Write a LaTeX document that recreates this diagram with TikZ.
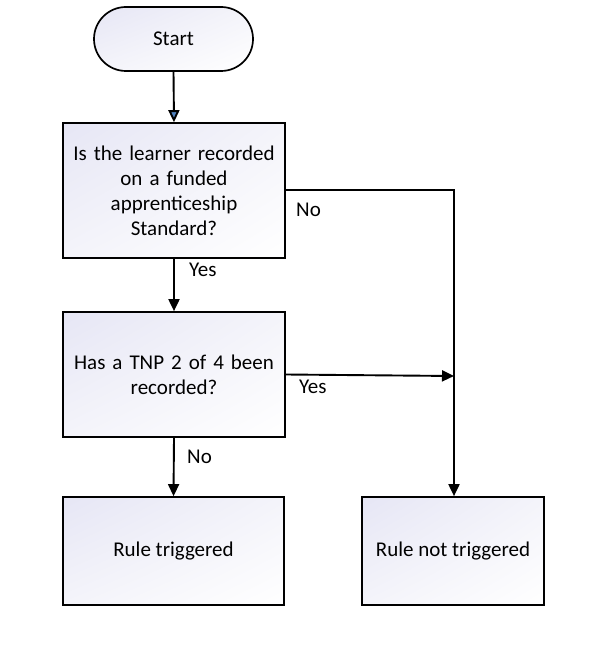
\documentclass[tikz,border=0pt]{standalone}
\usepackage{fontspec}
\setmainfont{Carlito}
\usetikzlibrary{arrows.meta,shadings}
\definecolor{shadeA}{RGB}{230,230,245}
\definecolor{shadeB}{RGB}{244,244,250}
\definecolor{tipblue}{RGB}{79,129,189}
\begin{document}
\begin{tikzpicture}[x=1pt,y=-1pt,
  every node/.style={font=\fontsize{21}{25}\selectfont, text=black},
  boxnode/.style={draw=black, line width=1.7pt, upper left=shadeA, upper right=shadeB, lower left=shadeB, lower right=white, align=center, inner sep=2pt},
  conn/.style={draw=black, line width=1.9pt},
  tip/.style={-{Triangle[width=11pt,length=12pt]}},
  bluetip/.style={-{Triangle[width=11pt,length=12pt,fill=tipblue]}},
  lbl/.style={anchor=west, inner sep=0pt}]
\useasboundingbox (0,0) rectangle (597,652);
\node[boxnode, rounded corners=32pt, minimum width=159pt, minimum height=64pt] (start) at (173.5,39) {Start};
\node[boxnode, minimum width=222pt, minimum height=135pt, text width=218pt] (q1) at (174,190.5) {Is the learner recorded\\on a funded\\apprenticeship\\Standard?};
\node[boxnode, minimum width=222pt, minimum height=125pt, text width=218pt] (q2) at (174,374.5) {Has a TNP 2 of 4 been\\recorded?};
\node[boxnode, minimum width=221pt, minimum height=108pt] (r1) at (173.5,551) {Rule triggered};
\node[boxnode, minimum width=182pt, minimum height=108pt] (r2) at (453,551) {Rule not triggered};
\coordinate (c1) at (454,190);
\coordinate (c2) at (454,376);
\draw[conn, bluetip] (start.south) -- (q1.north);
\draw[conn, tip] (q1.south) -- (q2.north);
\draw[conn, tip] (q2.south) -- (r1.north);
\draw[conn, tip] (q1.east |- c1) -- (c1) -- (r2.north -| c1);
\draw[conn, tip] (q2.east) -- (c2);
\node[lbl] (lyes1) at (189,270) {Yes};
\node[lbl] (lno1) at (296,210) {No};
\node[lbl] (lyes2) at (299,387) {Yes};
\node[lbl] (lno2) at (187,457) {No};
\end{tikzpicture}
\end{document}
